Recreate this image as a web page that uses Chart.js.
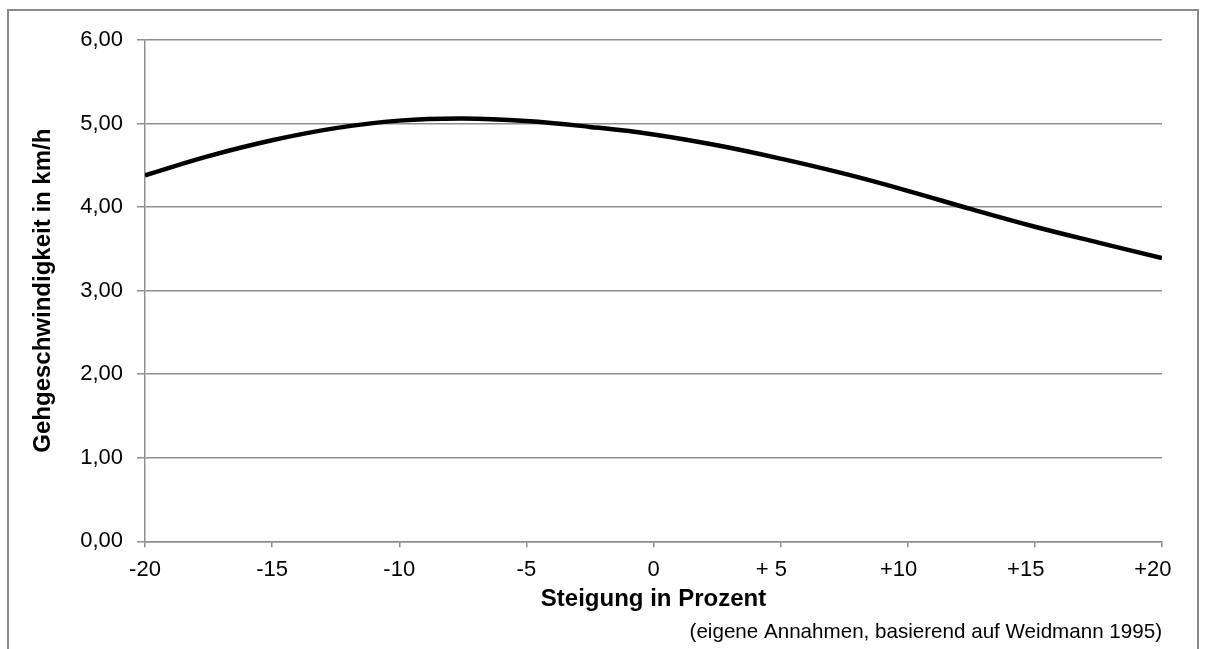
<!DOCTYPE html>
<html lang="de">
<head>
<meta charset="utf-8">
<title>Gehgeschwindigkeit nach Steigung</title>
<script src="https://cdn.jsdelivr.net/npm/chart.js@4/dist/chart.umd.min.js"></script>
<style>
  html, body { margin: 0; padding: 0; background: #fff; }
  #wrap { width: 1205px; height: 649px; }
</style>
</head>
<body>
<div id="wrap"><canvas id="chart" width="1205" height="649"></canvas></div>
<script>
// Steigung in Prozent (x) und Gehgeschwindigkeit in km/h (y)
const slopePercent = [-20, -17.5, -15, -12.5, -10, -7.5, -5, -2.5, 0, 2.5, 5, 7.5, 10, 12.5, 15, 17.5, 20];
const walkingSpeed = [4.38, 4.61, 4.80, 4.945, 5.035, 5.06, 5.03, 4.96, 4.87, 4.74, 4.58, 4.40, 4.195, 3.975, 3.765, 3.575, 3.39];

// Achsenbereiche und Beschriftungen
const xTicks = [-20, -15, -10, -5, 0, 5, 10, 15, 20];
const yTicks = [0, 1, 2, 3, 4, 5, 6];
const xTitle = 'Steigung in Prozent';
const yTitle = 'Gehgeschwindigkeit in km/h';
const sourceNote = '(eigene Annahmen, basierend auf Weidmann 1995)';

const FONT = '"Liberation Sans", Arial, Helvetica, sans-serif';
const GRID = '#8f8f8f';

const points = slopePercent.map((x, i) => ({ x, y: walkingSpeed[i] }));

// Zahlenformat "+?0": positive Werte mit Pluszeichen, einstellige mit Leerstelle
function formatSlope(v) {
  if (v > 0) return (v < 10 ? '+ ' : '+') + v + '   ';
  return String(v);
}

// Rahmen um die gesamte Grafik
const framePlugin = {
  id: 'frame',
  afterDraw(chart) {
    const ctx = chart.ctx;
    ctx.save();
    ctx.strokeStyle = '#8a8a8a';
    ctx.lineWidth = 2;
    ctx.strokeRect(8, 10, 1190, 660);
    ctx.restore();
  }
};

new Chart(document.getElementById('chart'), {
  type: 'line',
  data: {
    datasets: [{
      data: points,
      borderColor: '#000',
      borderWidth: 4.5,
      pointRadius: 0,
      tension: 0.4,
      fill: false
    }]
  },
  options: {
    responsive: false,
    animation: false,
    events: [],
    layout: { padding: { left: 0, right: 43, top: 40, bottom: 0 } },
    plugins: {
      legend: { display: false },
      tooltip: { enabled: false },
      subtitle: {
        display: true,
        text: sourceNote,
        position: 'bottom',
        align: 'end',
        color: '#000',
        font: { family: FONT, size: 20.6, weight: 'normal' },
        padding: { top: 6.6, bottom: 4 }
      }
    },
    scales: {
      x: {
        type: 'linear',
        min: -20,
        max: 20,
        afterBuildTicks(scale) { scale.ticks = xTicks.map(v => ({ value: v })); },
        afterFit(scale) { scale.height = 72.4; },
        ticks: {
          color: '#000',
          font: { family: FONT, size: 22 },
          padding: 9,
          maxRotation: 0,
          autoSkip: false,
          callback: v => formatSlope(v)
        },
        grid: {
          drawOnChartArea: false,
          drawTicks: true,
          tickLength: 6,
          color: GRID,
          lineWidth: 1.5
        },
        border: { display: true, color: GRID, width: 1.5 },
        title: {
          display: true,
          text: xTitle,
          color: '#000',
          font: { family: FONT, size: 24, weight: 'bold' },
          padding: { top: 0, bottom: 0 }
        }
      },
      y: {
        type: 'linear',
        min: 0,
        max: 6,
        afterBuildTicks(scale) { scale.ticks = yTicks.map(v => ({ value: v })); },
        afterFit(scale) { scale.width = 145; },
        ticks: {
          color: '#000',
          font: { family: FONT, size: 22 },
          padding: 14,
          callback: v => v.toFixed(2).replace('.', ',')
        },
        grid: {
          drawTicks: true,
          tickLength: 8,
          color: GRID,
          lineWidth: 1.5
        },
        border: { display: true, color: GRID, width: 1.5 },
        title: {
          display: true,
          text: yTitle,
          color: '#000',
          font: { family: FONT, size: 24, weight: 'bold' },
          padding: { top: 28.6, bottom: 0 }
        }
      }
    }
  },
  plugins: [framePlugin]
});
</script>
</body>
</html>
